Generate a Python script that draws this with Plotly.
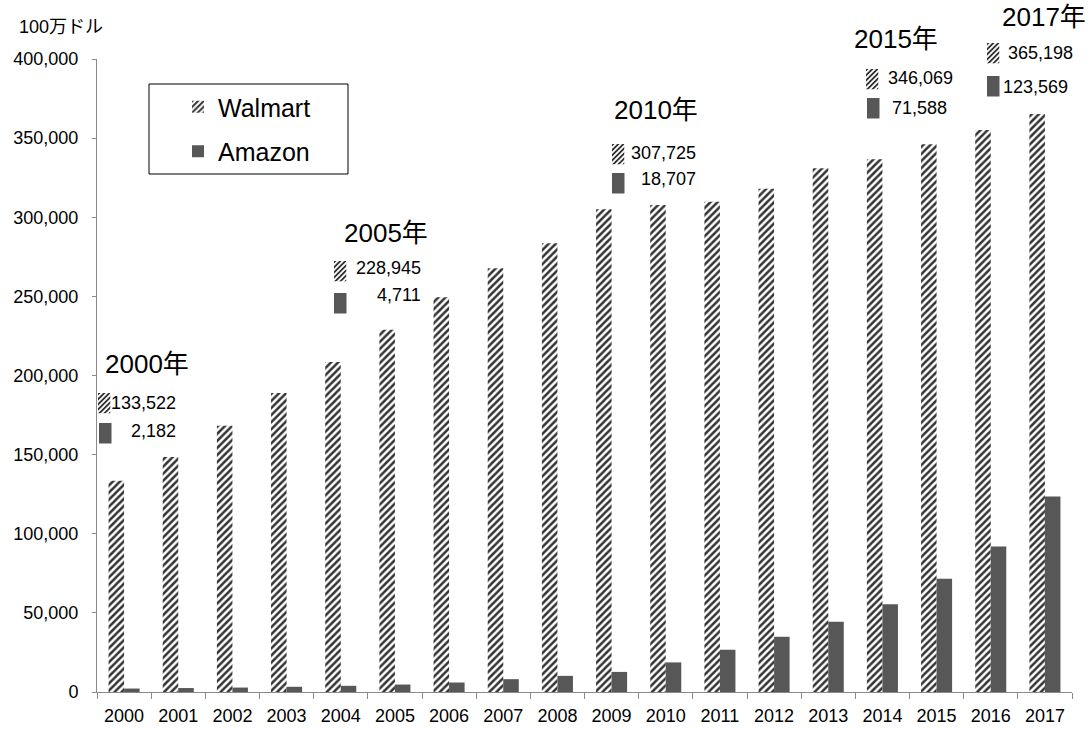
import base64
import plotly.graph_objects as go

# ---------------- data ----------------
years = [str(y) for y in range(2000, 2018)]
walmart = [133522, 148500, 168200, 188900, 208600, 228945, 249500, 267800, 283600,
           305000, 307725, 309800, 318000, 331000, 336600, 346069, 355100, 365198]
amazon = [2182, 2500, 2800, 3300, 3900, 4711, 6000, 8100, 10200,
          12700, 18707, 26700, 34900, 44400, 55500, 71588, 91900, 123569]
series_names = ["Walmart", "Amazon"]
callout_years = ["2000", "2005", "2010", "2015", "2017"]
y_ticks = list(range(0, 400001, 50000))
unit_label = "100万ドル"

# ---------------- styling / layout ----------------
W, H = 1089, 729
ML, MR, MT, MB = 97, 17, 59, 37
PW, PH = W - ML - MR, H - MT - MB
FONT = "Arial, 'Liberation Sans', 'Noto Sans CJK JP', sans-serif"
AMAZON_COLOR = "#575757"
HATCH_FG = "#333333"
AXIS_COLOR = "#8a8a8a"


def px_x(px):
    return (px - ML) / PW


def px_y(py):
    return (MT + PH - py) / PH


# callout positions (pixels): title(left, yc), walmart glyph (x0,y0), amazon glyph (x0,y0),
# walmart text (right, yc), amazon text (right, yc)
callout_pos = [
    dict(title=(103, 364), wg=(98, 393), ag=(99, 423), wt=(178, 403), at=(178, 431)),
    dict(title=(342, 233), wg=(334, 261), ag=(334, 293), wt=(423, 268), at=(423, 295)),
    dict(title=(612, 110), wg=(612, 144), ag=(612, 173), wt=(698, 153), at=(698, 179)),
    dict(title=(852, 39), wg=(866, 69), ag=(867, 98), wt=(955, 78), at=(949, 108)),
    dict(title=(1000, 17), wg=(987, 43), ag=(987, 76), wt=(1075, 53), at=(1070, 87)),
]
GW, GH = 12.5, 20.5

hatch_svg = (
    "<svg xmlns='http://www.w3.org/2000/svg' width='25' height='41' viewBox='0 0 12.5 20.5'>"
    "<defs><pattern id='p' patternUnits='userSpaceOnUse' width='3.6' height='3.6' "
    "patternTransform='rotate(45)'><rect x='0' y='0' width='1.8' height='3.6' fill='%s'/></pattern></defs>"
    "<rect width='12.5' height='20.5' fill='white'/><rect width='12.5' height='20.5' fill='url(#p)'/></svg>"
) % HATCH_FG
hatch_src = "data:image/svg+xml;base64," + base64.b64encode(hatch_svg.encode()).decode()

fig = go.Figure()
fig.add_trace(go.Bar(
    x=years, y=walmart, name=series_names[0], legendgroup="w",
    marker=dict(color="white", line=dict(width=0),
                pattern=dict(shape="/", fgcolor=HATCH_FG, bgcolor="white",
                             size=5, solidity=0.5, fillmode="replace")),
))
fig.add_trace(go.Bar(
    x=years, y=amazon, name=series_names[1], legendgroup="a",
    marker=dict(color=AMAZON_COLOR, line=dict(width=0)),
))

annotations = []
shapes = []
images = []

annotations.append(dict(
    text=unit_label, x=px_x(17), y=px_y(27), xref="paper", yref="paper",
    xanchor="left", yanchor="middle", showarrow=False,
    font=dict(family=FONT, size=18, color="black"),
))

for yr, pos in zip(callout_years, callout_pos):
    i = years.index(yr)
    tx, ty = pos["title"]
    annotations.append(dict(
        text=f"{yr}年", x=px_x(tx), y=px_y(ty), xref="paper", yref="paper",
        xanchor="left", yanchor="middle", showarrow=False,
        font=dict(family=FONT, size=26, color="black"),
    ))
    wx, wy = pos["wt"]
    annotations.append(dict(
        text=f"{walmart[i]:,}", x=px_x(wx), y=px_y(wy), xref="paper", yref="paper",
        xanchor="right", yanchor="middle", showarrow=False,
        font=dict(family=FONT, size=18, color="black"),
    ))
    ax, ay = pos["at"]
    annotations.append(dict(
        text=f"{amazon[i]:,}", x=px_x(ax), y=px_y(ay), xref="paper", yref="paper",
        xanchor="right", yanchor="middle", showarrow=False,
        font=dict(family=FONT, size=18, color="black"),
    ))
    gx, gy = pos["wg"]
    images.append(dict(
        source=hatch_src, xref="paper", yref="paper", x=px_x(gx), y=px_y(gy),
        sizex=GW / PW, sizey=GH / PH, xanchor="left", yanchor="top",
        sizing="stretch", layer="above",
    ))
    gx, gy = pos["ag"]
    shapes.append(dict(
        type="rect", xref="paper", yref="paper",
        x0=px_x(gx), x1=px_x(gx + GW), y0=px_y(gy), y1=px_y(gy + GH),
        fillcolor=AMAZON_COLOR, line=dict(width=0),
    ))

# legend box
shapes.append(dict(
    type="rect", xref="paper", yref="paper",
    x0=px_x(149), x1=px_x(348), y0=px_y(84), y1=px_y(174),
    fillcolor="rgba(0,0,0,0)", line=dict(color="black", width=1),
))

fig.update_layout(
    width=W, height=H,
    margin=dict(l=ML, r=MR, t=MT, b=MB, pad=0, autoexpand=False),
    paper_bgcolor="white", plot_bgcolor="white",
    barmode="group", bargap=0.427, bargroupgap=0,
    font=dict(family=FONT, size=18, color="black"),
    showlegend=True,
    legend=dict(
        x=px_x(178), y=px_y(84), xanchor="left", yanchor="top",
        font=dict(family=FONT, size=25, color="black"),
        bgcolor="rgba(0,0,0,0)", borderwidth=0,
        traceorder="grouped", tracegroupgap=9,
    ),
    annotations=annotations, shapes=shapes, images=images,
)
fig.update_xaxes(
    type="category", showgrid=False, zeroline=False, automargin=False,
    showline=True, linecolor=AXIS_COLOR, linewidth=1,
    ticks="outside", tickson="boundaries", ticklen=6, tickcolor=AXIS_COLOR,
    tickfont=dict(family=FONT, size=18, color="black"), ticklabelstandoff=7,
)
fig.update_yaxes(
    range=[0, 400000], tickvals=y_ticks, tickformat=",", automargin=False,
    showgrid=False, zeroline=False,
    showline=True, linecolor=AXIS_COLOR, linewidth=1,
    ticks="outside", ticklen=4, tickcolor=AXIS_COLOR,
    tickfont=dict(family=FONT, size=18, color="black"), ticklabelstandoff=10,
)

fig.write_html("out.html")
